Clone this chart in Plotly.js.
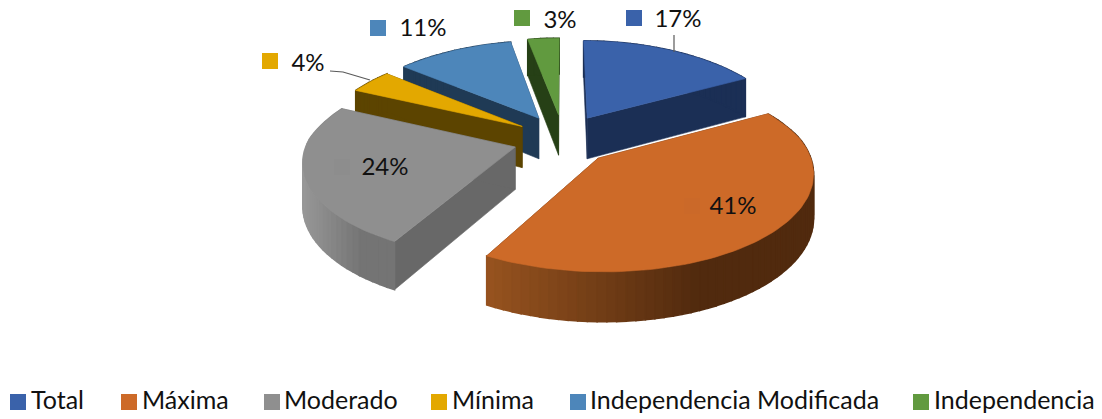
<!DOCTYPE html>
<html>
<head>
<meta charset="utf-8">
<script src="https://cdn.plot.ly/plotly-3.0.1.min.js"></script>
<style>html,body{margin:0;padding:0;background:#fff}#chart{width:1102px;height:419px}</style>
</head>
<body>
<div id="chart"></div>
<script>
const categories = ["Total","Máxima","Moderado","Mínima","Independencia Modificada","Independencia"];
const values = [17,41,24,4,11,3];
const topColors = ["#3a62aa","#cd6a28","#8f8f8f","#e3a800","#4d86ba","#619a3f"];
const cutColors = ["#1b2f55","#5a2f10","#686868","#5c4400","#1f3a55","#264016"];
const wallLeft = ["#1b2f55","#97531f","#989898","#5c4400","#1f3a55","#264016"];
const wallRight = ["#1b2f55","#512a0e","#747474","#5c4400","#1f3a55","#264016"];
const drawOrder = [5,4,3,0,2,1];
const nudgeX = [0,-1,0,0,0,0];
const nudgeY = [0,-2,-2,0,0,0];

// projection settings for the tilted, exploded pie
const cx = 563, cy = 140.6, A = 207, B = 93, k = 0.132, kBack = 0.05, D = 42, pullX = 0.24, pullY = 0.29;
const FONT = "Lato, Carlito, 'Open Sans', sans-serif";

// label positions
const labelMarkerX = [634,692,342,270,378,522];
const labelMarkerY = [18,206,167,61,28,18];
const labelTextX = [678,733,385,308,423,560];
const labelTextY = [21,208,169,65,30,22];
const labelMarkerColors = ["#3a62aa","#cb6929","#8d8d8d","#e3a800","#4d86ba","#619a3f"];

// legend positions
const legendMarkerX = [18,129,272,439,578,921];
const legendMarkerYpos = 402;
const legendTextX = [31,142,284,452,590,934];
const legendTextY = 403;

const total = values.reduce((a,b)=>a+b,0);
const traces = [];
function proj(u,v,z,i){
  const w = 1/(1+k*v);
  const wx = 1/(1+k*v+kBack*Math.max(v,0));
  return [cx+A*u*wx+nudgeX[i], cy-B*v*w+z*D*w+nudgeY[i]];
}
function poly(pts,color,lw){
  const xs = pts.map(p=>p[0]).concat(pts[0][0]);
  const ys = pts.map(p=>p[1]).concat(pts[0][1]);
  traces.push({type:"scatter",mode:"lines",x:xs,y:ys,fill:"toself",fillcolor:color,
    line:{color:color,width:lw||0.6},hoverinfo:"skip",showlegend:false});
}
function hex(c){return [1,3,5].map(i=>parseInt(c.substr(i,2),16));}
function mix(a,b,t){const p=hex(a),q=hex(b);return "rgb("+p.map((v,i)=>Math.round(v+(q[i]-v)*t)).join(",")+")";}

let acc = 0;
const slices = values.map((val,i)=>{
  const a0 = acc/total*2*Math.PI; acc += val; const a1 = acc/total*2*Math.PI;
  const mid = (a0+a1)/2;
  return {i,a0,a1,ox:pullX*Math.sin(mid),oy:pullY*Math.cos(mid)};
});
function rim(s,a,z){ return proj(s.ox+Math.sin(a),s.oy+Math.cos(a),z,s.i); }

drawOrder.forEach(i=>{
  const s = slices[i];
  const ap0 = proj(s.ox,s.oy,0,i), ap1 = proj(s.ox,s.oy,1,i);
  // cut faces
  poly([ap0,rim(s,s.a0,0),rim(s,s.a0,1),ap1],cutColors[i]);
  poly([ap0,rim(s,s.a1,0),rim(s,s.a1,1),ap1],cutColors[i]);
  // outer wall in strips for the shading
  const N = Math.max(2,Math.ceil((s.a1-s.a0)/0.04));
  let xMin = Infinity, xMax = -Infinity;
  for(let n=0;n<=N;n++){const a=s.a0+(s.a1-s.a0)*n/N;const x=rim(s,a,0)[0];xMin=Math.min(xMin,x);xMax=Math.max(xMax,x);}
  for(let n=N-1;n>=0;n--){
    const a=s.a0+(s.a1-s.a0)*n/N, b=s.a0+(s.a1-s.a0)*(n+1)/N;
    const xm=(rim(s,a,0)[0]+rim(s,b,0)[0])/2;
    const t=Math.min(1,(xm-xMin)/Math.max(1,xMax-xMin)/0.65);
    poly([rim(s,a,0),rim(s,b,0),rim(s,b,1),rim(s,a,1)],mix(wallLeft[i],wallRight[i],t),1.5);
  }
  // top face
  const pts=[ap0];
  const M=Math.max(6,Math.ceil((s.a1-s.a0)/0.03));
  for(let n=0;n<=M;n++) pts.push(rim(s,s.a0+(s.a1-s.a0)*n/M,0));
  poly(pts,topColors[i]);
});

// leader lines
const leaderX = [[674,674],[330,343,370]];
const leaderY = [[35,52],[71,72,80]];
leaderX.forEach((x,n)=>traces.push({type:"scatter",mode:"lines",x:x,y:leaderY[n],
  line:{color:"#595959",width:1.2},hoverinfo:"skip",showlegend:false}));

// keys beside the data labels
traces.push({type:"scatter",mode:"markers",x:labelMarkerX,y:labelMarkerY,
  marker:{symbol:"square",size:16,color:labelMarkerColors,opacity:1,line:{width:0}},hoverinfo:"skip",showlegend:false});
// data labels
traces.push({type:"scatter",mode:"text",x:labelTextX,y:labelTextY,text:values.map(v=>v+"%"),
  textposition:"middle center",textfont:{family:FONT,size:24,color:"#111"},hoverinfo:"skip",showlegend:false});
// legend
traces.push({type:"scatter",mode:"markers",x:legendMarkerX,y:legendMarkerX.map(()=>legendMarkerYpos),
  marker:{symbol:"square",size:16,color:topColors,opacity:1,line:{width:0}},hoverinfo:"skip",showlegend:false});
traces.push({type:"scatter",mode:"text",x:legendTextX,y:legendTextX.map(()=>legendTextY),text:categories,
  textposition:"middle right",textfont:{family:FONT,size:25,color:"#111"},hoverinfo:"skip",showlegend:false});

const layout = {
  width:1102,height:419,margin:{l:0,r:0,t:0,b:0},
  paper_bgcolor:"#fff",plot_bgcolor:"#fff",showlegend:false,
  xaxis:{range:[0,1102],visible:false,fixedrange:true},
  yaxis:{range:[419,0],visible:false,fixedrange:true}
};
Plotly.newPlot("chart",traces,layout,{displayModeBar:false,staticPlot:true});
</script>
</body>
</html>
